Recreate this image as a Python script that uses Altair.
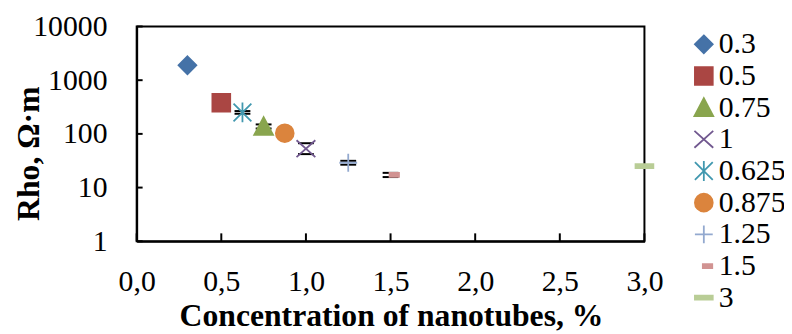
import altair as alt
import pandas as pd

# ---- data ----
series = ["0.3", "0.5", "0.75", "1", "0.625", "0.875", "1.25", "1.5", "3"]
conc = [0.3, 0.5, 0.75, 1.0, 0.625, 0.875, 1.25, 1.5, 3.0]
rho = [1900, 380, 137, 53, 251, 103, 29, 17.2, 25]
err_lo = [None, None, 126, 42, 237, None, 26.7, 15.7, None]
err_hi = [None, None, 150, 67, 266, None, 31.5, 18.8, None]

colors = ["#4572A7", "#AA4643", "#89A54E", "#71588F", "#4198AF",
          "#DB843D", "#93A9CF", "#D19392", "#B9CD96"]
shapes = [
    "M0,-0.9L0.9,0L0,0.9L-0.9,0Z",                                 # diamond
    "M-0.9,-0.9H0.9V0.9H-0.9Z",                                    # square
    "M0,-0.95L0.95,0.85H-0.95Z",                                   # triangle
    "M-0.95,-0.85L0.95,0.85M-0.95,0.85L0.95,-0.85",                # x
    "M-0.9,-0.9L0.9,0.9M-0.9,0.9L0.9,-0.9M0,-1V1",                 # star
    "M0.9,0A0.9,0.9 0 1,1 -0.9,0A0.9,0.9 0 1,1 0.9,0Z",            # circle
    "M-0.9,0H0.9M0,-0.9V0.9",                                      # plus
    "M-0.1,-0.2H0.85V0.2H-0.1Z",                                   # short dash
    "M-0.9,-0.2H0.9V0.2H-0.9Z",                                    # long dash
]

x_ticks = [0, 0.5, 1.0, 1.5, 2.0, 2.5, 3.0]
y_ticks = [1, 10, 100, 1000, 10000]

FONT = "Liberation Serif"

pts = pd.DataFrame({"series": series, "conc": conc, "rho": rho})
caps = []
for s, c, lo, hi in zip(series, conc, err_lo, err_hi):
    if lo is not None:
        caps.append({"series": s, "conc": c, "v": lo})
        caps.append({"series": s, "conc": c, "v": hi})
caps = pd.DataFrame(caps)
xt = pd.DataFrame({"t": x_ticks})
yt = pd.DataFrame({"t": y_ticks})

xscale = alt.Scale(domain=[0, 3], nice=False, zero=False)
yscale = alt.Scale(type="log", domain=[1, 10000], nice=False)

xaxis = alt.Axis(values=x_ticks, labelExpr="replace(format(datum.value, '.1f'), '.', ',')",
                 title="Concentration of nanotubes, %", grid=False, ticks=False,
                 labelFlush=False, labelOverlap=False,
                 labelPadding=50, labelBaseline="alphabetic",
                 titleX=257, titleY=85, titleBaseline="alphabetic", titleAlign="center")
yaxis = alt.Axis(values=y_ticks, format="d", title="Rho, Ω·m", grid=False, ticks=False,
                 labelFlush=False, labelOverlap=False, labelPadding=30,
                 titleX=-109, titleY=128, titleAngle=-90,
                 titleBaseline="middle", titleAlign="center")

fill_scale = alt.Scale(domain=series, range=colors)
shape_scale = alt.Scale(domain=series, range=shapes)

legend = alt.Legend(title=None, orient="none", legendX=558, legendY=3,
                    symbolSize=400, symbolStrokeWidth=1.8,
                    labelFontSize=30, labelFont=FONT, labelOffset=0,
                    rowPadding=2, labelColor="black", padding=0)

xtick_layer = alt.Chart(xt).mark_rule(color="black", strokeWidth=2).encode(
    x=alt.X("t:Q", scale=xscale, axis=xaxis),
    y=alt.value(217), y2=alt.value(209),
)
ytick_layer = alt.Chart(yt).mark_rule(color="black", strokeWidth=2).encode(
    y=alt.Y("t:Q", scale=yscale, axis=yaxis),
    x=alt.value(0), x2=alt.value(6),
)

err_layer = alt.Chart(caps).mark_tick(orient="horizontal", size=16, thickness=2,
                                      color="black", opacity=1).encode(
    x=alt.X("conc:Q", scale=xscale, axis=xaxis),
    y=alt.Y("v:Q", scale=yscale, axis=yaxis),
)

pt_layer = alt.Chart(pts).mark_point(filled=True, opacity=1, size=400,
                                     strokeWidth=1.8).encode(
    x=alt.X("conc:Q", scale=xscale, axis=xaxis),
    y=alt.Y("rho:Q", scale=yscale, axis=yaxis),
    fill=alt.Fill("series:N", scale=fill_scale, legend=legend),
    stroke=alt.Stroke("series:N", scale=fill_scale, legend=legend),
    shape=alt.Shape("series:N", scale=shape_scale, legend=legend),
)

chart = alt.layer(xtick_layer, ytick_layer, err_layer, pt_layer).properties(
    width=513, height=217,
    autosize=alt.AutoSizeParams(type="none"),
    padding={"left": 130, "top": 17, "right": 141, "bottom": 92},
).configure_view(
    stroke="black", strokeWidth=2
).configure_axis(
    domainColor="black", domainWidth=2,
    labelFont=FONT, labelFontSize=30, labelColor="black",
    titleFont=FONT, titleFontSize=32, titleFontWeight="bold", titleColor="black",
)

chart.save("out.html", embed_options={"renderer": "svg", "actions": False})
